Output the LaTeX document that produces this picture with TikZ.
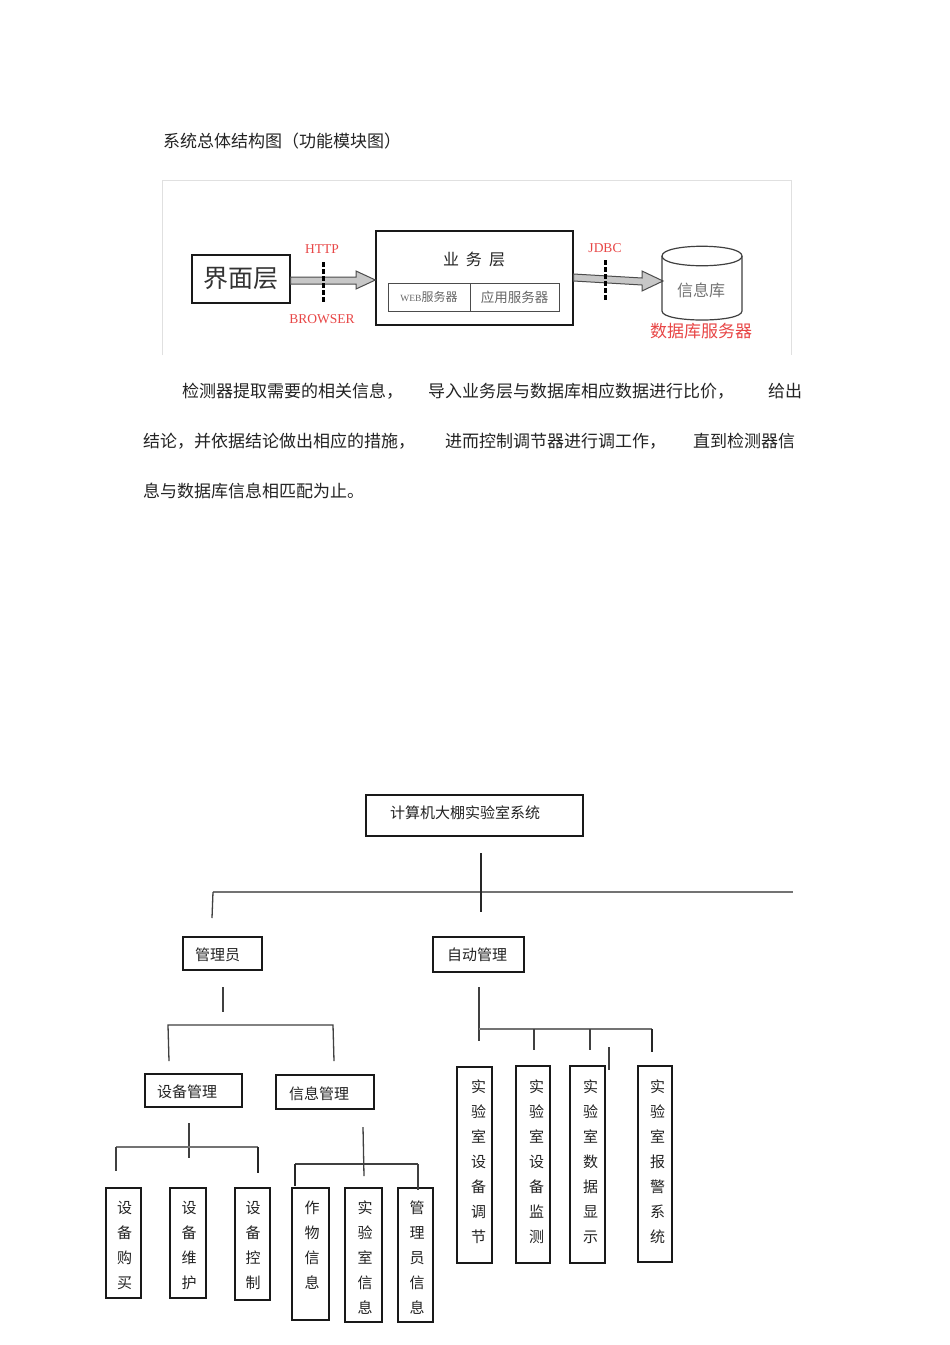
\documentclass[tikz,border=0pt]{standalone}
\usepackage{fontspec}
\setmainfont{Noto Sans CJK SC}
\newfontfamily\latf{Liberation Serif}
\usetikzlibrary{calc}
\definecolor{redt}{RGB}{232,70,70}
\definecolor{txt}{RGB}{35,35,35}
\begin{document}
\begin{tikzpicture}[x=1pt,y=-1pt,
  box/.style={draw=black!90, line width=1.2pt, inner sep=0pt},
  vtext/.style={font=\fontsize{15}{25}\selectfont, align=center, inner sep=0pt, text=txt, anchor=north},
  btext/.style={font=\fontsize{15}{18}\selectfont, text=txt, inner sep=0pt, anchor=west},
  ptext/.style={font=\fontsize{17}{20}\selectfont, text=txt, inner sep=0pt, anchor=west},
  conn/.style={line width=1.3pt, draw=black!75},
  thickconn/.style={line width=2pt, draw=black!85},
  hbar/.style={line width=2pt, draw=black!55},
  redlab/.style={font=\latf\fontsize{13.5}{15}\selectfont, text=redt, inner sep=0pt},
  dotline/.style={line width=3pt, dash pattern=on 4.5pt off 2.5pt, draw=black},
  fatarrow/.style={fill=black!22, draw=black!70, line width=1pt, line join=miter},
]
\useasboundingbox[fill=white] (0,0) rectangle (950,1345);

% ---------- title ----------
\node[ptext] (title) at (163,141) {系统总体结构图（功能模块图）};

% ---------- frame ----------
\coordinate (f1) at (162,355); \coordinate (f2) at (162,180);
\coordinate (f3) at (791,180); \coordinate (f4) at (791,355);
\draw[black!12, line width=1pt] (f1) -- (f2) -- (f3) -- (f4);

% ---------- UI layer ----------
\node[box, minimum width=98pt, minimum height=48pt,
      font=\fontsize{25}{28}\selectfont, text=black!80] (ui) at (241,279) {界面层};

% business layer
\node[box, minimum width=197pt, minimum height=94pt] (biz) at (474.5,278) {};
\node[font=\fontsize{16}{18}\selectfont, text=txt, inner sep=0pt] (bizt) at (474,259) {业\hspace{7pt}务\hspace{7pt}层};
\node[draw=black!70, line width=1pt, minimum width=82pt, minimum height=28pt, inner sep=0pt,
      text=black!60] (web) at (429,297) {{\latf\fontsize{9.5}{11}\selectfont WEB}{\fontsize{12}{14}\selectfont 服务器}};
\node[draw=black!70, line width=1pt, minimum width=89pt, minimum height=28pt, inner sep=0pt,
      text=black!60, font=\fontsize{13.5}{15}\selectfont] (app) at (514.5,297) {应用服务器};

% arrow 1
\draw[fatarrow] (ui.east |- 0,277) -- (356,277) -- (356,271) -- (biz.west |- 0,280) -- (356,289) -- (356,284) -- (ui.east |- 0,284) -- cycle;
\node[redlab] (http) at (322,249) {HTTP};
\node[redlab] (browser) at (322,319) {BROWSER};
\coordinate (d1a) at (323,262); \coordinate (d1b) at (323,303);
\draw[dotline] (d1a) -- (d1b);

% arrow 2
\draw[fatarrow] (biz.east |- 0,274) -- (642,278) -- (642,271) -- (663,281) -- (642,291) -- (642,285) -- (biz.east |- 0,281) -- cycle;
\node[redlab] (jdbc) at (605,248) {JDBC};
\coordinate (d2a) at (605,260); \coordinate (d2b) at (605,302);
\draw[dotline] (d2a) -- (d2b);

% database cylinder
\draw[draw=black!75, line width=1.2pt, fill=white]
  (662,256) .. controls (662,243) and (742,243) .. (742,256)
  .. controls (742,269) and (662,269) .. (662,256) -- cycle;
\draw[draw=black!75, line width=1.2pt]
  (662,256) -- (662,311) .. controls (662,323) and (742,323) .. (742,311) -- (742,256);
\node[font=\fontsize{16}{18}\selectfont, text=black!55, inner sep=0pt] (db) at (701,290) {信息库};
\node[font=\fontsize{17}{19}\selectfont, text=redt, inner sep=0pt] (dbs) at (701,331) {数据库服务器};

% ---------- paragraph ----------
\node[ptext] (p1a) at (182,391) {检测器提取需要的相关信息，};
\node[ptext] (p1b) at (428,391) {导入业务层与数据库相应数据进行比价，};
\node[ptext] (p1c) at (768,391) {给出};
\node[ptext] (p2a) at (143,441) {结论，并依据结论做出相应的措施，};
\node[ptext] (p2b) at (445,441) {进而控制调节器进行调工作，};
\node[ptext] (p2c) at (693,441) {直到检测器信};
\node[ptext] (p3a) at (143,491) {息与数据库信息相匹配为止。};

% ---------- tree ----------
\node[box, minimum width=217pt, minimum height=41pt] (root) at (474.5,815.5) {};
\node[btext] (roott) at (390,813) {计算机大棚实验室系统};

\node[box, minimum width=79pt, minimum height=33pt] (adm) at (222.5,953.5) {};
\node[btext] (admt) at (195,955) {管理员};
\node[box, minimum width=91pt, minimum height=35pt] (auto) at (478.5,954.5) {};
\node[btext] (autot) at (447,955) {自动管理};
\node[box, minimum width=97pt, minimum height=33pt] (dev) at (193.5,1090.5) {};
\node[btext] (devt) at (157,1092) {设备管理};
\node[box, minimum width=98pt, minimum height=34pt] (info) at (325,1092) {};
\node[btext] (infot) at (289,1094) {信息管理};

% leaves
\node[box, minimum width=35pt, minimum height=110pt] (l1) at (123.5,1243) {};
\node[vtext] (l1t) at (124.5,1201) {设\\备\\购\\买};
\node[box, minimum width=36pt, minimum height=110pt] (l2) at (188,1243) {};
\node[vtext] (l2t) at (189,1201) {设\\备\\维\\护};
\node[box, minimum width=35pt, minimum height=112pt] (l3) at (252.5,1244) {};
\node[vtext] (l3t) at (253,1201) {设\\备\\控\\制};
\node[box, minimum width=37pt, minimum height=132pt] (l4) at (310.5,1254) {};
\node[vtext] (l4t) at (312,1201) {作\\物\\信\\息};
\node[box, minimum width=37pt, minimum height=134pt] (l5) at (363.5,1255) {};
\node[vtext] (l5t) at (365,1201) {实\\验\\室\\信\\息};
\node[box, minimum width=35pt, minimum height=134pt] (l6) at (415.5,1255) {};
\node[vtext] (l6t) at (417,1201) {管\\理\\员\\信\\息};

\node[box, minimum width=35pt, minimum height=196pt] (a1) at (474.5,1165) {};
\node[vtext] (a1t) at (478.5,1079.5) {实\\验\\室\\设\\备\\调\\节};
\node[box, minimum width=34pt, minimum height=197pt] (a2) at (533,1164.5) {};
\node[vtext] (a2t) at (536.5,1079.5) {实\\验\\室\\设\\备\\监\\测};
\node[box, minimum width=35pt, minimum height=197pt] (a3) at (587.5,1164.5) {};
\node[vtext] (a3t) at (590.5,1079.5) {实\\验\\室\\数\\据\\显\\示};
\node[box, minimum width=34pt, minimum height=196pt] (a4) at (655,1164) {};
\node[vtext] (a4t) at (657.5,1079.5) {实\\验\\室\\报\\警\\系\\统};

% connector coordinates
\coordinate (r1) at (481,853);  \coordinate (r2) at (481,912);
\coordinate (h1a) at (213,892); \coordinate (h1b) at (793,892);
\coordinate (h1d) at (212,918);
\coordinate (m1) at (223,987);  \coordinate (m2) at (223,1012);
\coordinate (h2a) at (168,1025); \coordinate (h2b) at (333,1025);
\coordinate (h2c) at (169,1061); \coordinate (h2d) at (334,1061);
\coordinate (s1) at (189,1123); \coordinate (s2) at (189,1158);
\coordinate (h3a) at (116,1147); \coordinate (h3b) at (258,1147);
\coordinate (h3c) at (116,1171); \coordinate (h3d) at (258,1173);
\coordinate (i1) at (363,1127); \coordinate (i2) at (364,1176);
\coordinate (h4a) at (295,1164); \coordinate (h4b) at (418,1164);
\coordinate (h4c) at (295,1186); \coordinate (h4d) at (418,1190);
\coordinate (z1) at (479,987);  \coordinate (z2) at (479,1041);
\coordinate (h5a) at (479,1029); \coordinate (h5b) at (652,1029);
\coordinate (h5c) at (534,1050); \coordinate (h5d) at (590,1050);
\coordinate (h5e) at (652,1052);
\coordinate (h5f) at (534,1029); \coordinate (h5g) at (590,1029);
\coordinate (x1) at (609,1047); \coordinate (x2) at (609,1070);

\draw[hbar] (h1a) -- (h1b);
\draw[thickconn] (r1) -- (r2);
\draw[conn] (h1a) -- (h1d);
\draw[conn] (m1) -- (m2);
\draw[conn] (h2c) -- (h2a) -- (h2b) -- (h2d);
\draw[conn] (s1) -- (s2);
\draw[conn, draw=black!55] (h3a) -- (h3b);
\draw[conn] (h3a) -- (h3c);
\draw[thickconn] (h3b) -- (h3d);
\draw[conn] (i1) -- (i2);
\draw[conn] (h4b) -- (h4a);
\draw[thickconn] (h4a) -- (h4c);
\draw[conn] (h4b) -- (h4d);
\draw[conn] (z1) -- (z2);
\draw[hbar] (h5a) -- (h5b);
\draw[conn] (h5f) -- (h5c);
\draw[conn] (h5g) -- (h5d);
\draw[thickconn] (h5b) -- (h5e);
\draw[conn] (x1) -- (x2);
\end{tikzpicture}
\end{document}
